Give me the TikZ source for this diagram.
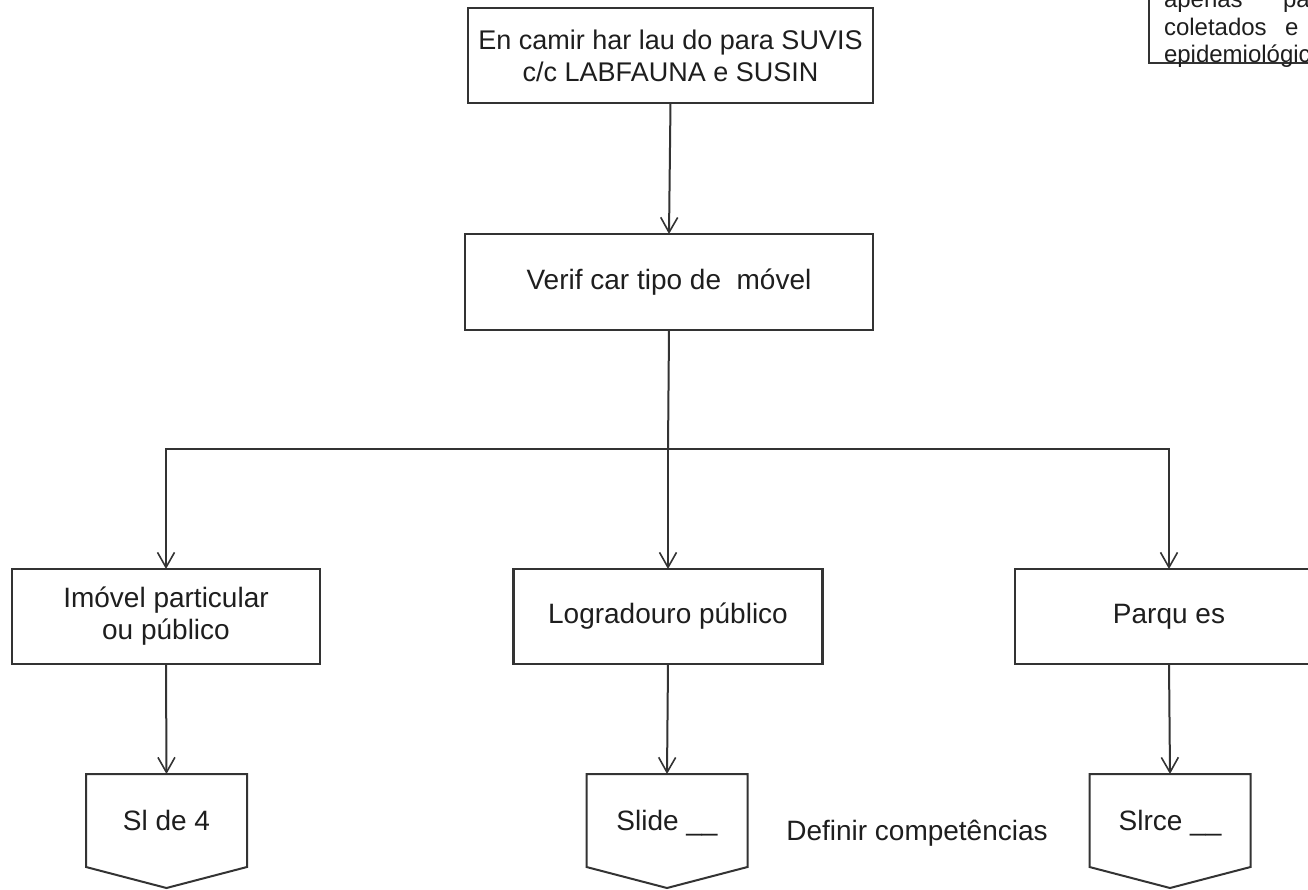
\documentclass[tikz,border=0pt]{standalone}
\usepackage{fontspec}
\setmainfont{Liberation Sans}
\usetikzlibrary{arrows.meta,calc}
\definecolor{ln}{HTML}{333333}
\definecolor{txt}{HTML}{1E1E1E}

\begin{document}
\begin{tikzpicture}[x=1pt,y=-1pt,
  every node/.style={font=\fontsize{28}{32}\selectfont, text=txt, inner sep=0pt, outer sep=0pt},
  box/.style={draw=ln, line width=2.6pt, rectangle, align=center, minimum height=95pt},
  plain/.style={rectangle, draw=none, minimum width=161pt, minimum height=93pt,
                text height=20pt, text depth=0pt},
  conn/.style={draw=ln, line width=2pt},
  arr/.style={conn, -{Straight Barb[length=15pt,width=17pt,line width=1.6pt]}},
  pent/.style={draw=ln, line width=2pt, line join=miter},
  small/.style={font=\fontsize{24}{28}\selectfont, anchor=base west},
]
\useasboundingbox (0,0) rectangle (1308,890);
\clip (0,0) rectangle (1308,890);

% main chain
\node[box, minimum width=405pt, font=\fontsize{27}{32}\selectfont] (enc) at (670.5,55.5)
  {En camir har lau do para SUVIS\\c/c LABFAUNA e SUSIN};
\node[box, minimum width=408pt, minimum height=96pt] (ver) at (669,282)
  {Verif car tipo de\ \ móvel};

% three kinds of property
\node[box, minimum width=308pt] (imo) at (166,616.5) {Imóvel particular\\ou público};
\node[box, minimum width=309pt] (log) at (668,616.5) {Logradouro público};
\node[box, minimum width=308pt] (par) at (1169,616.5) {Parqu es};

% off-page connectors
\node[plain] (p1) at (166.5,820.5) {Sl de 4};
\node[plain] (p2) at (667,820.5) {Slide \_\_};
\node[plain] (p3) at (1170,820.5) {Slrce \_\_};
\foreach \p in {p1,p2,p3}{
  \draw[pent] (\p.north west) -- (\p.north east) -- (\p.south east)
    -- ($(\p.south)+(0,21)$) -- (\p.south west) -- cycle;
}

\node[anchor=base] (def) at (917,840) {Definir competências};

% branching
\coordinate (bus) at (668,449);
\draw[arr] (enc.south) -- (ver.north);
\draw[conn] (ver.south) -- (bus);
\draw[arr] (bus) -| (imo.north);
\draw[arr] (bus) -- (log.north);
\draw[arr] (bus) -| (par.north);
\draw[arr] (imo.south) -- (p1.north);
\draw[arr] (log.south) -- (p2.north);
\draw[arr] (par.south) -- (p3.north);

% note box in the corner
\draw[draw=ln, line width=2pt] (1149,-10) rectangle (1340,63);
\node[small] (n1) at (1164,8) {apenas};
\node[small] (n2) at (1283,8) {pa};
\node[small] (n3) at (1164,36) {coletados};
\node[small] (n4) at (1285,36) {e};
\node[small] (n5) at (1164,63) {epidemiológic};
\end{tikzpicture}
\end{document}
